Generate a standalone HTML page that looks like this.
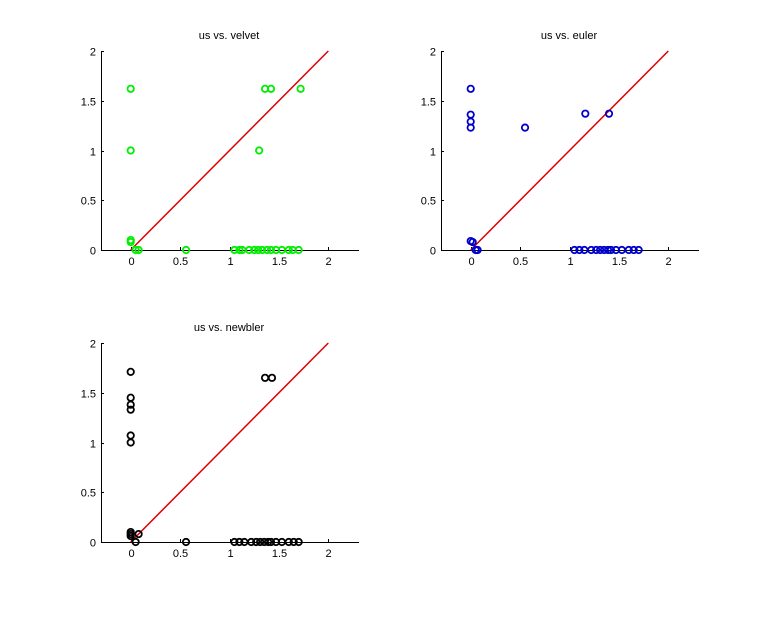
<!DOCTYPE html>
<html><head><style>
body{margin:0;background:#fff;}
svg text{font-family:"Liberation Sans",sans-serif;font-size:11px;}
</style></head><body>
<svg id="s" width="772" height="616" xmlns="http://www.w3.org/2000/svg"></svg>
<script>
const s=document.getElementById('s');let h='';
const zeros=[1.05,1.1,1.15,1.22,1.27,1.31,1.35,1.39,1.42,1.47,1.53,1.6,1.65,1.7];
const axes=[
 {x0:101,y0:51,title:'us vs. velvet',c:'#00ee00',pts:[[0,1.62],[0,1.0],[0,0.1],[0,0.08],[0.05,0],[0.08,0],[0.56,0],[1.05,0],[1.1,0],[1.13,0],[1.2,0],[1.25,0],[1.29,0],[1.33,0],[1.38,0],[1.42,0],[1.47,0],[1.53,0],[1.6,0],[1.64,0],[1.7,0],[1.3,1.0],[1.36,1.62],[1.42,1.62],[1.72,1.62]]},
 {x0:441,y0:51,title:'us vs. euler',c:'#0000cc',pts:[[0,1.62],[0,1.36],[0,1.29],[0,1.23],[0,0.09],[0.02,0.08],[0.05,0],[0.07,0],[0.55,1.23],[1.16,1.37],[1.4,1.37]].concat(zeros.map(z=>[z,0]))},
 {x0:101,y0:343,title:'us vs. newbler',c:'#000',pts:[[0,1.71],[0,1.45],[0,1.38],[0,1.33],[0,1.07],[0,1.0],[0,0.1],[0,0.08],[0,0.06],[0.08,0.08],[0.05,0],[0.56,0],[1.36,1.65],[1.43,1.65]].concat(zeros.map(z=>[z,0]))}
];
for(const a of axes){
 const W=258,H=199,k=98.8,ky=H/2;
 const X=v=>a.x0+29.7+v*k, Y=v=>a.y0+H-v*ky;
 h+=`<text x="${a.x0+W/2-1}" y="${a.y0-12}" text-anchor="middle">${a.title}</text>`;
 h+=`<path d="M${a.x0+.5} ${a.y0}V${a.y0+H+.5}H${a.x0+W}" fill="none" stroke="#000"/>`;
 for(const t of [0,0.5,1,1.5,2]){
  const xx=Math.round(X(t))+.5, yy=Math.round(Y(t))+.5;
  h+=`<path d="M${xx} ${a.y0+H}v-3M${a.x0} ${yy}h3" stroke="#000"/>`;
  h+=`<text x="${xx}" y="${a.y0+H+15}" text-anchor="middle">${t}</text>`;
  h+=`<text x="${a.x0-5}" y="${yy+4}" text-anchor="end">${t}</text>`;
 }
 h+=`<line x1="${X(0)}" y1="${Y(0)}" x2="${X(2)}" y2="${Y(2)}" stroke="#dd0000" stroke-width="1.5"/>`;
 for(const p of a.pts) h+=`<circle cx="${X(p[0])}" cy="${Y(p[1])}" r="3.2" fill="none" stroke="${a.c}" stroke-width="1.8"/>`;
}
s.innerHTML=h;
</script>
</body></html>
